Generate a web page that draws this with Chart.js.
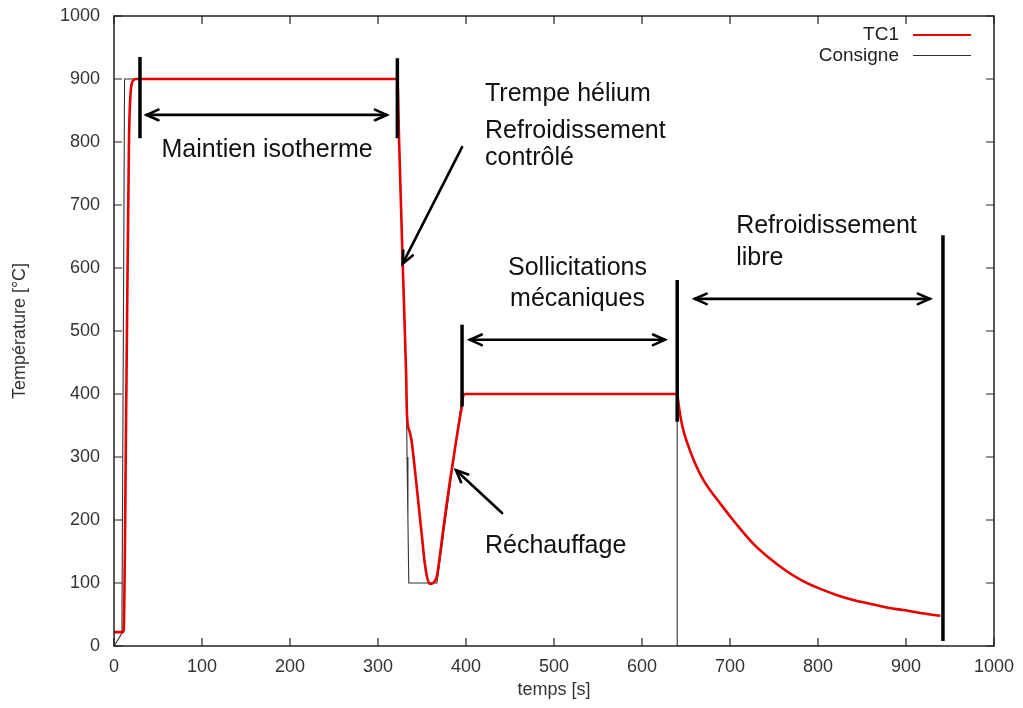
<!DOCTYPE html>
<html>
<head>
<meta charset="utf-8">
<script src="https://cdn.jsdelivr.net/npm/chart.js@4.4.1/dist/chart.umd.min.js"></script>
<style>
  html, body { margin: 0; padding: 0; background: #fff; }
</style>
</head>
<body>
<canvas id="grafico" width="1023" height="708"></canvas>
<script>
// dados: tempo [s] e temperatura [°C]
const tempsTC1 = [0, 10, 11, 14, 17, 19, 22, 25, 322, 324, 328, 332, 333, 336, 338, 342, 346, 350, 353, 356, 358.5, 361, 364, 367, 370, 374, 378, 382, 386, 389.5, 393, 395.5, 397, 400,
                  640, 641, 643, 646, 651, 660, 670, 689, 708, 726, 746, 764, 783, 802, 821, 840, 859, 878, 897, 918, 939];
const tempTC1  = [22, 22, 25, 400, 800, 880, 898, 900, 900, 800, 610, 430, 365, 340, 327, 279, 226, 173, 133, 108, 99, 99, 102, 111, 140, 184, 225, 264, 300, 332, 362, 382, 398, 400,
                  400, 390, 370, 348, 324, 291, 263, 226, 192, 163, 138, 119, 103, 91, 81, 73, 67, 61, 57, 52, 48];

const tempsConsigne = [0, 9, 12, 322, 332, 333, 334, 335, 367, 396, 640, 640, 940];
const tempConsigne  = [0, 20, 900, 900, 430, 300, 200, 100, 100, 400, 400, 0, 0];

const ticksX = [0, 100, 200, 300, 400, 500, 600, 700, 800, 900, 1000];
const ticksY = [0, 100, 200, 300, 400, 500, 600, 700, 800, 900, 1000];

const FONTE = '"Liberation Sans", Arial, sans-serif';

function pontos(xs, ys) {
    return xs.map((x, i) => ({ x: x, y: ys[i] }));
}

// marcas verticais, setas e textos (em coordenadas de dados)
const barras = [
    [29.5, 935, 806],
    [322, 933, 806],
    [395.5, 510, 380],
    [640, 581, 356],
    [942, 652, 8]
];
const setasDuplas = [
    [37, 310, 843],
    [404.5, 626, 486],
    [660, 927, 551]
];
const setasSimples = [
    [395.5, 792, 328, 607],
    [441, 211, 388.6, 279]
];
const textos = [
    ['Maintien isotherme', 54, 787, 'left'],
    ['Trempe hélium', 421.6, 876, 'left'],
    ['Refroidissement', 421.6, 817, 'left'],
    ['contrôlé', 421.6, 774, 'left'],
    ['Sollicitations', 526.7, 600, 'center'],
    ['mécaniques', 526.7, 551, 'center'],
    ['Refroidissement', 707, 666, 'left'],
    ['libre', 707, 616, 'left'],
    ['Réchauffage', 421.6, 159, 'left']
];

function ponta(ctx, x0, y0, x1, y1) {
    const ang = Math.atan2(y1 - y0, x1 - x0);
    const L = 13, a = 0.42;
    ctx.beginPath();
    ctx.moveTo(x1 - L * Math.cos(ang - a), y1 - L * Math.sin(ang - a));
    ctx.lineTo(x1, y1);
    ctx.lineTo(x1 - L * Math.cos(ang + a), y1 - L * Math.sin(ang + a));
    ctx.stroke();
}

const anotacoes = {
    id: 'anotacoes',
    afterDatasetsDraw(chart) {
        const ctx = chart.ctx;
        const sx = chart.scales.x, sy = chart.scales.y;
        const px = v => sx.getPixelForValue(v);
        const py = v => sy.getPixelForValue(v);
        const area = chart.chartArea;

        ctx.save();
        // moldura e ticks para dentro (estilo gnuplot)
        ctx.strokeStyle = '#222';
        ctx.lineWidth = 1.5;
        ctx.strokeRect(area.left, area.top, area.right - area.left, area.bottom - area.top);
        ctx.lineWidth = 1.2;
        ctx.beginPath();
        ticksX.forEach(v => {
            const x = px(v);
            ctx.moveTo(x, area.bottom); ctx.lineTo(x, area.bottom - 8);
            ctx.moveTo(x, area.top); ctx.lineTo(x, area.top + 8);
        });
        ticksY.forEach(v => {
            const y = py(v);
            ctx.moveTo(area.left, y); ctx.lineTo(area.left + 8, y);
            ctx.moveTo(area.right, y); ctx.lineTo(area.right - 8, y);
        });
        ctx.stroke();

        // legenda
        ctx.font = '19px ' + FONTE;
        ctx.textAlign = 'right';
        ctx.textBaseline = 'middle';
        ctx.fillStyle = '#222';
        chart.data.datasets.forEach((ds, i) => {
            const y = 35 + i * 20.5;
            ctx.fillText(ds.label, 899, y);
            ctx.strokeStyle = ds.borderColor;
            ctx.lineWidth = i === 0 ? 2 : 1;
            ctx.beginPath();
            ctx.moveTo(913, y); ctx.lineTo(971, y);
            ctx.stroke();
        });

        // barras verticais
        ctx.strokeStyle = '#000';
        ctx.lineWidth = 3.5;
        barras.forEach(b => {
            ctx.beginPath();
            ctx.moveTo(px(b[0]), py(b[1]));
            ctx.lineTo(px(b[0]), py(b[2]));
            ctx.stroke();
        });

        // setas
        ctx.lineWidth = 2.6;
        ctx.lineCap = 'round';
        setasDuplas.forEach(s => {
            const x0 = px(s[0]), x1 = px(s[1]), y = py(s[2]);
            ctx.beginPath();
            ctx.moveTo(x0, y); ctx.lineTo(x1, y);
            ctx.stroke();
            ponta(ctx, x1, y, x0, y);
            ponta(ctx, x0, y, x1, y);
        });
        setasSimples.forEach(s => {
            const x0 = px(s[0]), y0 = py(s[1]), x1 = px(s[2]), y1 = py(s[3]);
            ctx.beginPath();
            ctx.moveTo(x0, y0); ctx.lineTo(x1, y1);
            ctx.stroke();
            ponta(ctx, x0, y0, x1, y1);
        });

        // textos
        ctx.font = '25px ' + FONTE;
        ctx.fillStyle = '#111';
        ctx.textBaseline = 'middle';
        textos.forEach(t => {
            ctx.textAlign = t[3];
            ctx.fillText(t[0], px(t[1]), py(t[2]));
        });
        ctx.restore();
    }
};

const contexto = document.getElementById('grafico').getContext('2d');

new Chart(contexto, {
    type: 'line',
    data: {
        datasets: [
            {
                label: 'TC1',
                data: pontos(tempsTC1, tempTC1),
                borderColor: '#e60000',
                borderWidth: 2.6,
                pointRadius: 0,
                cubicInterpolationMode: 'monotone'
            },
            {
                label: 'Consigne',
                data: pontos(tempsConsigne, tempConsigne),
                borderColor: '#333',
                borderWidth: 1.1,
                pointRadius: 0,
                tension: 0
            }
        ]
    },
    options: {
        responsive: false,
        animation: false,
        devicePixelRatio: 1,
        layout: { padding: { top: 16, right: 29, left: 0, bottom: 0 } },
        plugins: {
            legend: { display: false },
            tooltip: { enabled: false }
        },
        scales: {
            x: {
                type: 'linear',
                min: 0,
                max: 1000,
                afterFit: s => { s.height = 62; s.paddingLeft = 0; s.paddingRight = 0; },
                afterBuildTicks: s => { s.ticks = ticksX.map(v => ({ value: v })); },
                grid: { display: false, drawTicks: false },
                border: { display: false },
                ticks: { padding: 10, color: '#333', font: { size: 18, family: FONTE }, callback: v => String(v) },
                title: { display: true, text: 'temps [s]', color: '#333', padding: { top: 7, bottom: 7 }, font: { size: 18, family: FONTE } }
            },
            y: {
                type: 'linear',
                min: 0,
                max: 1000,
                afterFit: s => { s.width = 114; s.paddingTop = 0; s.paddingBottom = 0; },
                afterBuildTicks: s => { s.ticks = ticksY.map(v => ({ value: v })); },
                grid: { display: false, drawTicks: false },
                border: { display: false },
                ticks: { padding: 14, color: '#333', font: { size: 18, family: FONTE }, callback: v => String(v) },
                title: { display: true, text: 'Température [°C]', color: '#333', padding: { top: 9, bottom: 9 }, font: { size: 18, family: FONTE } }
            }
        }
    },
    plugins: [anotacoes]
});
</script>
</body>
</html>
